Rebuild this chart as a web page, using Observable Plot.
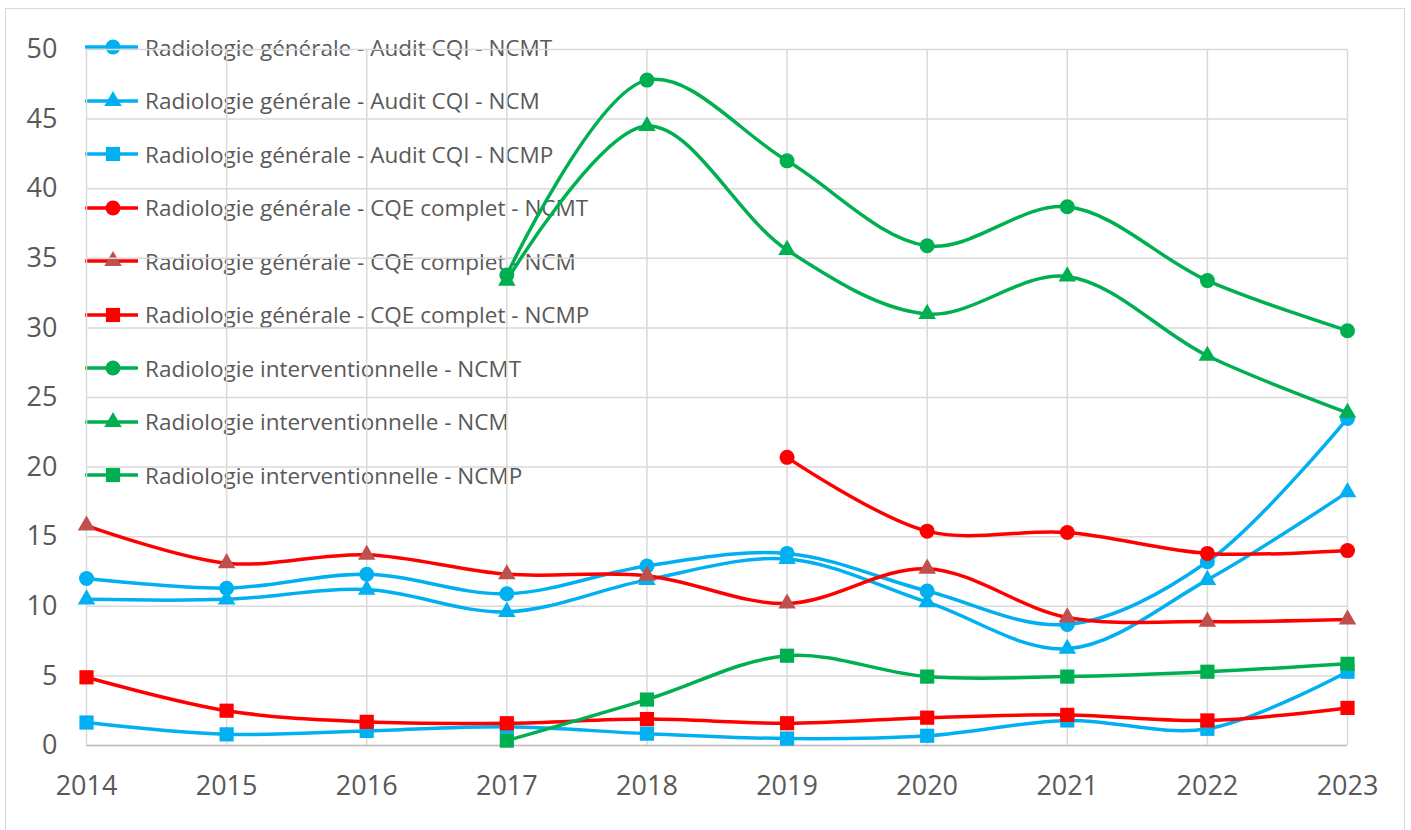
<!DOCTYPE html>
<html><head><meta charset="utf-8">
<script src="https://cdn.jsdelivr.net/npm/d3@7"></script>
<script src="https://cdn.jsdelivr.net/npm/@observablehq/plot@0.6"></script>
<style>
body{margin:0;background:#fff;}
#wrap{position:relative;width:1411px;height:830px;overflow:hidden;font-family:"Open Sans",sans-serif;}
#frame{position:absolute;left:5px;top:8px;width:1400px;height:840px;border:1.5px solid #d9d9d9;box-sizing:border-box;}
#legend{position:absolute;left:85px;top:0;}
.item{position:absolute;left:0;height:30px;display:flex;align-items:center;white-space:nowrap;font-size:22.5px;color:#595959;}
.item svg{margin-right:7px;}
#chart{position:absolute;left:0;top:0;}
</style></head><body>
<div id="wrap"><div id="frame"></div><div id="legend"></div><div id="chart"></div></div>
<script>
const years = [2014, 2015, 2016, 2017, 2018, 2019, 2020, 2021, 2022, 2023];
const yTicks = [0, 5, 10, 15, 20, 25, 30, 35, 40, 45, 50];

const seriesNames = [
  "Radiologie générale - Audit CQI - NCMT",
  "Radiologie générale - Audit CQI - NCM",
  "Radiologie générale - Audit CQI - NCMP",
  "Radiologie générale - CQE complet - NCMT",
  "Radiologie générale - CQE complet - NCM",
  "Radiologie générale - CQE complet - NCMP",
  "Radiologie interventionnelle - NCMT",
  "Radiologie interventionnelle - NCM",
  "Radiologie interventionnelle - NCMP"
];

const rgCqiNcmt = [12.0, 11.3, 12.3, 10.9, 12.9, 13.8, 11.1, 8.7, 13.2, 23.5];
const rgCqiNcm  = [10.5, 10.5, 11.2, 9.6, 11.9, 13.4, 10.3, 6.95, 11.9, 18.2];
const rgCqiNcmp = [1.65, 0.8, 1.05, 1.35, 0.85, 0.5, 0.7, 1.8, 1.2, 5.3];
const rgCqeNcmt = [null, null, null, null, null, 20.7, 15.4, 15.3, 13.8, 14.0];
const rgCqeNcm  = [15.8, 13.1, 13.7, 12.3, 12.2, 10.2, 12.7, 9.2, 8.9, 9.05];
const rgCqeNcmp = [4.9, 2.5, 1.7, 1.6, 1.9, 1.6, 2.0, 2.2, 1.8, 2.7];
const riNcmt    = [null, null, null, 33.8, 47.8, 42.0, 35.9, 38.7, 33.4, 29.8];
const riNcm     = [null, null, null, 33.4, 44.5, 35.6, 31.0, 33.7, 28.0, 23.9];
const riNcmp    = [null, null, null, 0.35, 3.3, 6.45, 4.95, 4.95, 5.3, 5.87];

const seriesValues = [rgCqiNcmt, rgCqiNcm, rgCqiNcmp, rgCqeNcmt, rgCqeNcm, rgCqeNcmp, riNcmt, riNcm, riNcmp];

const BLUE = "#00B0F0", RED = "#FF0000", GREEN = "#00B050";
const lineColors  = [BLUE, BLUE, BLUE, RED, RED, RED, GREEN, GREEN, GREEN];
const markerFills = [BLUE, BLUE, BLUE, RED, "#C0504D", RED, GREEN, GREEN, GREEN];
const symbols = ["circle", "triangle", "square", "circle", "triangle", "square", "circle", "triangle", "square"];
const symR = {circle: 7.5, triangle: 6.5, square: 8};

const marks = [
  Plot.gridX(years, {stroke: "#d9d9d9", strokeOpacity: 1, strokeWidth: 1.5}),
  Plot.gridY(yTicks, {stroke: "#d9d9d9", strokeOpacity: 1, strokeWidth: 1.5}),
  Plot.ruleY([0], {stroke: "#bfbfbf", strokeWidth: 1.5})
];

seriesNames.forEach((name, i) => {
  const rows = years.map((yr, j) => ({year: yr, value: seriesValues[i][j], series: name}))
    .filter(d => d.value != null);
  marks.push(Plot.line(rows, {x: "year", y: "value", stroke: lineColors[i], strokeWidth: 3.5, curve: "catmull-rom"}));
  marks.push(Plot.dot(rows, {x: "year", y: "value", symbol: symbols[i], r: symR[symbols[i]], fill: markerFills[i], stroke: "none"}));
});

const chart = Plot.plot({
  width: 1411, height: 830,
  marginLeft: 86, marginRight: 64, marginTop: 49, marginBottom: 85,
  x: {domain: [2014, 2023], ticks: years, tickFormat: d => String(d), tickSize: 0, tickPadding: 30, label: null},
  y: {domain: [0, 50], ticks: yTicks, tickSize: 0, tickPadding: 29, label: null},
  style: {background: "transparent", fontFamily: "Open Sans", fontSize: "27px", color: "#595959", overflow: "visible"},
  marks
});
document.getElementById("chart").appendChild(chart);

// Legend (overlaid at top-left of the plot area, beneath the lines)
const legend = d3.select("#legend");
seriesNames.forEach((name, i) => {
  const item = legend.append("div").attr("class", "item").style("top", (47 + 53.5 * i - 15) + "px");
  const svg = item.append("svg").attr("width", 53).attr("height", 30);
  svg.append("line").attr("x1", 0).attr("x2", 53).attr("y1", 15).attr("y2", 15)
    .attr("stroke", lineColors[i]).attr("stroke-width", 3.5);
  const symType = {circle: d3.symbolCircle, triangle: d3.symbolTriangle, square: d3.symbolSquare}[symbols[i]];
  const r = symR[symbols[i]];
  svg.append("path").attr("transform", "translate(28,15)")
    .attr("d", d3.symbol(symType, r * r * Math.PI)()).attr("fill", markerFills[i]);
  item.append("span").text(name);
});
</script>
</body></html>
